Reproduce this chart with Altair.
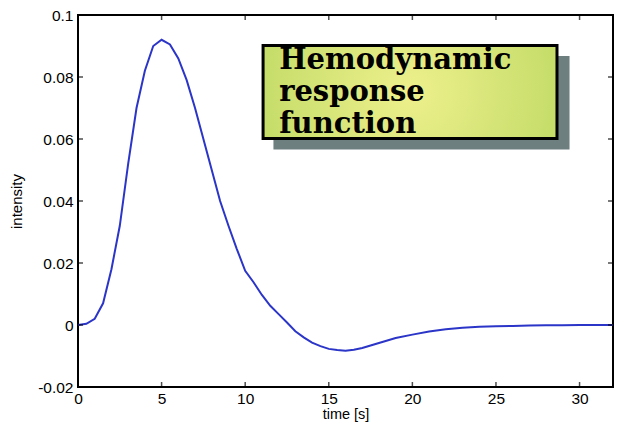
import altair as alt
import pandas as pd

# HRF curve
t = [0, 0.5, 1, 1.5, 2, 2.5, 3, 3.5, 4, 4.5, 5, 5.5, 6, 6.5, 7, 7.5, 8, 8.5, 9, 9.5,
     10, 10.5, 11, 11.5, 12, 12.5, 13, 13.5, 14, 14.5, 15, 15.5, 16, 16.5, 17, 17.5,
     18, 19, 20, 21, 22, 23, 24, 25, 26, 27, 28, 29, 30, 31, 32]
intensity = [0, 0.0004, 0.002, 0.007, 0.018, 0.032, 0.052, 0.070, 0.082, 0.090, 0.092,
             0.0905, 0.086, 0.079, 0.070, 0.060, 0.050, 0.040, 0.032, 0.0245,
             0.0175, 0.0138, 0.0097, 0.0062, 0.0035, 0.0008, -0.002, -0.004, -0.0057,
             -0.0068, -0.0077, -0.0081, -0.0083, -0.0080, -0.0074, -0.0066,
             -0.0058, -0.0042, -0.0031, -0.0021, -0.0014, -0.0009, -0.0006, -0.0004,
             -0.0003, -0.0002, -0.0001, -0.0001, 0, 0, 0]

x_ticks = [0, 5, 10, 15, 20, 25, 30]
y_ticks = [-0.02, 0, 0.02, 0.04, 0.06, 0.08, 0.1]

label_text = "Hemodynamic\nresponse\nfunction"
box = {"x": 11.07, "x2": 28.65, "y": 0.0902, "y2": 0.0602}
shadow = {"x": 11.69, "x2": 29.40, "y": 0.0868, "y2": 0.0566}
text_anchor = {"x": 12.03, "y": 0.0827}

W, H = 535, 372

xs = alt.Scale(domain=[0, 32], nice=False, zero=False)
ys = alt.Scale(domain=[-0.02, 0.1], nice=False, zero=False)

curve_df = pd.DataFrame({"t": t, "v": intensity})
xt_df = pd.DataFrame({"x": x_ticks})
yt_df = pd.DataFrame({"y": y_ticks})

xaxis = alt.Axis(values=x_ticks, title="time [s]", ticks=False, domain=False, grid=False,
                 labelFont="Liberation Sans", labelFontSize=15.5, labelColor="black",
                 labelPadding=4, labelFlush=False, labelOverlap=False,
                 titleFont="Liberation Sans", titleFontSize=14.5, titleFontWeight="normal",
                 titleColor="black", titleY=31, titleBaseline="alphabetic")
yaxis = alt.Axis(values=y_ticks, title="intensity", ticks=False, domain=False, grid=False,
                 labelFont="Liberation Sans", labelFontSize=15.5, labelColor="black",
                 labelPadding=5, labelOverlap=False, labelFlush=False,
                 labelExpr="toString(round(datum.value*100)/100)",
                 titleFont="Liberation Sans", titleFontSize=15, titleFontWeight="normal",
                 titleColor="black", titleX=-57, titleBaseline="alphabetic")

line = alt.Chart(curve_df).mark_line(color="#2b35c8", strokeWidth=2).encode(
    x=alt.X("t:Q", scale=xs, axis=xaxis),
    y=alt.Y("v:Q", scale=ys, axis=yaxis),
)

shadow_df = pd.DataFrame([shadow])
box_df = pd.DataFrame([box])
text_df = pd.DataFrame([{**text_anchor, "label": label_text}])

shadow_mark = alt.Chart(shadow_df).mark_rect(color="#6e7f80").encode(
    x=alt.X("x:Q", scale=xs), x2="x2:Q", y=alt.Y("y:Q", scale=ys), y2="y2:Q")

box_mark = alt.Chart(box_df).mark_rect(
    fill=alt.Gradient(gradient="radial",
                      stops=[alt.GradientStop(color="#eef08c", offset=0),
                             alt.GradientStop(color="#c6dd6a", offset=1)]),
    stroke="black", strokeWidth=3).encode(
    x=alt.X("x:Q", scale=xs), x2="x2:Q", y=alt.Y("y:Q", scale=ys), y2="y2:Q")

text_mark = alt.Chart(text_df).mark_text(
    font="DejaVu Serif", fontSize=29, fontWeight="bold", color="black",
    align="left", baseline="alphabetic", lineBreak="\n", lineHeight=32).encode(
    x=alt.X("x:Q", scale=xs), y=alt.Y("y:Q", scale=ys), text="label:N")

tick_style = dict(color="black", thickness=1.5, size=5)
xt_bottom = alt.Chart(xt_df).mark_tick(orient="vertical", **tick_style).encode(
    x=alt.X("x:Q", scale=xs), y=alt.value(H - 2.5))
xt_top = alt.Chart(xt_df).mark_tick(orient="vertical", **tick_style).encode(
    x=alt.X("x:Q", scale=xs), y=alt.value(2.5))
yt_left = alt.Chart(yt_df).mark_tick(orient="horizontal", **tick_style).encode(
    y=alt.Y("y:Q", scale=ys), x=alt.value(2.5))
yt_right = alt.Chart(yt_df).mark_tick(orient="horizontal", **tick_style).encode(
    y=alt.Y("y:Q", scale=ys), x=alt.value(W - 2.5))

chart = alt.layer(line, shadow_mark, box_mark, text_mark,
                  xt_bottom, xt_top, yt_left, yt_right).properties(
    width=W, height=H,
    autosize=alt.AutoSizeParams(type="none"),
    padding={"left": 70, "top": 7, "right": 1, "bottom": 35},
    background="white",
).configure_view(stroke="black", strokeWidth=2)

chart.save("out.html", embed_options={"renderer": "svg", "actions": False})
